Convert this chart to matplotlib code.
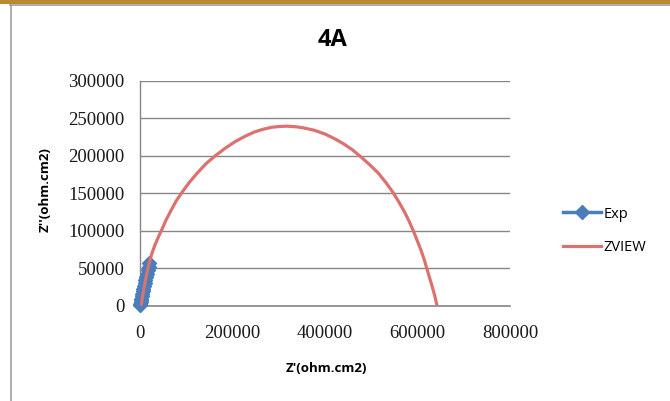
import matplotlib
matplotlib.use("Agg")
import matplotlib.pyplot as plt
from matplotlib.lines import Line2D
from matplotlib.patches import Rectangle

# Data
exp_x = [500, 900, 1500, 2200, 3000, 3900, 4900, 6000, 7200, 8500, 9900,
         11400, 13000, 14700, 16500, 18400, 20400]
exp_y = [1000, 2500, 4500, 7000, 9500, 12500, 15500, 19000, 22500, 26000,
         30000, 34000, 38000, 42500, 47000, 52000, 56500]

zview_x = [3000, 6000, 10000, 15500, 21600, 27000, 33000, 40000, 46900, 56000,
           67000, 78000, 90200, 106000, 124000, 142000, 162000, 183000, 205000,
           227000, 248600, 267000, 285000, 300000, 318000, 337000, 355000,
           377000, 400000, 420000, 440000, 458000, 475600, 495000, 515000,
           532000, 547600, 560000, 572000, 582000, 590900, 599000, 607000,
           614000, 620000, 626000, 632000, 637000, 641500]
zview_y = [2000, 14000, 28000, 45000, 61000, 72000, 82000, 92000, 101000, 114000,
           127000, 139500, 150600, 164000, 177000, 189000, 199600, 209500, 218600,
           226000, 232000, 235500, 238000, 239000, 239500, 238700, 237000,
           234000, 229000, 223000, 216000, 208500, 199600, 189000, 177000,
           164000, 150600, 138000, 125000, 112500, 100000, 87500, 75000,
           62500, 50000, 37500, 25000, 14000, 2000]

x_ticks = [0, 200000, 400000, 600000, 800000]
y_ticks = [0, 50000, 100000, 150000, 200000, 250000, 300000]

title = "4A"
xlabel = "Z'(ohm.cm2)"
ylabel = "Z''(ohm.cm2)"

W, H = 670, 401
fig = plt.figure(figsize=(W / 100, H / 100), dpi=100)
fig.patch.set_facecolor("white")

# Frame decorations (gold top bar, gray borders)
fig.add_artist(Rectangle((0, 1 - 4 / H), 1, 4 / H, transform=fig.transFigure,
                         facecolor="#B98A2E", edgecolor="none"))
fig.add_artist(Line2D([10 / W, 1], [1 - 5 / H, 1 - 5 / H], transform=fig.transFigure,
                      color="#A0A0A0", lw=1.2))
fig.add_artist(Line2D([10.5 / W, 10.5 / W], [0, 1 - 5 / H], transform=fig.transFigure,
                      color="#A0A0A0", lw=1.2))

ax = fig.add_axes([140 / W, 1 - 305.7 / H, 370 / W, (305.7 - 80.8) / H])
ax.set_xlim(0, 800000)
ax.set_ylim(0, 300000)

for s in ["top", "right", "bottom"]:
    ax.spines[s].set_visible(False)
ax.spines["left"].set_color("#868686")
ax.spines["left"].set_linewidth(1)

ax.set_yticks(y_ticks)
ax.set_xticks(x_ticks)
ax.yaxis.grid(True, color="#868686", lw=1)
ax.xaxis.grid(False)
ax.axhline(0, color="#868686", lw=1.2, clip_on=False, zorder=0.5)
ax.set_axisbelow(True)
ax.tick_params(axis="y", length=0, pad=11)
ax.tick_params(axis="x", length=0, pad=14)

tick_font = dict(family="Liberation Serif", weight="normal", size=13.5)
ax.set_xticklabels([str(v) for v in x_ticks], **tick_font)
ax.set_yticklabels([str(v) for v in y_ticks], **tick_font)
for lab in ax.get_yticklabels() + ax.get_xticklabels():
    lab.set_color("#1a1a1a")

ax.plot(exp_x, exp_y, color="#4A7EBB", lw=2.5, marker="D", markersize=7,
        markerfacecolor="#4A7EBB", markeredgecolor="#4A7EBB", label="Exp",
        clip_on=False, zorder=3)
ax.plot(zview_x, zview_y, color="#DB7270", lw=2.3, label="ZVIEW",
        solid_joinstyle="round", zorder=4)

fig.text(333 / W, 1 - 40 / H, title, ha="center", va="center",
         family="Open Sans", weight="bold", size=17)
fig.text(326 / W, 1 - 369 / H, xlabel, ha="center", va="center",
         family="Open Sans", weight="bold", size=9.5)
fig.text(45 / W, 1 - 190 / H, ylabel, ha="center", va="center", rotation=90,
         family="Open Sans", weight="bold", size=9.5)

leg = fig.legend(loc="center left", bbox_to_anchor=(550 / W, 1 - 231 / H),
                 frameon=False, handlelength=2.6, handletextpad=0.2,
                 labelspacing=1.3, prop=dict(family="Open Sans", size=10.5))

fig.savefig("out.png", dpi=100, facecolor="white")
